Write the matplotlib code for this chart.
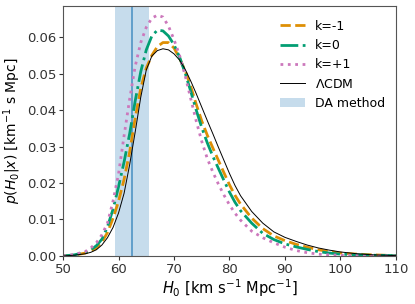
import numpy as np
import matplotlib
matplotlib.use("Agg")
import matplotlib.pyplot as plt

# H0 grid [km/s/Mpc]
h0 = [50, 52, 54, 55, 56, 57, 58, 59, 60, 61, 62, 63, 64, 65, 66, 67, 68, 69, 70,
      71, 72, 73, 74, 75, 76, 77, 78, 79, 80, 81, 82, 84, 86, 88, 90, 92, 94, 96,
      98, 100, 103, 106, 110]

# posterior p(H0|x)
p_km1 = [0.0000, 0.0002, 0.0008, 0.0013, 0.0022, 0.0038, 0.0064, 0.0103, 0.0150,
         0.0210, 0.0285, 0.0378, 0.0460, 0.0515, 0.0550, 0.0574, 0.0585, 0.0585,
         0.0570, 0.0542, 0.0508, 0.0465, 0.0416, 0.0370, 0.0331, 0.0296, 0.0262,
         0.0228, 0.0195, 0.0166, 0.0142, 0.0104, 0.0075, 0.0055, 0.0042, 0.0032,
         0.0024, 0.0017, 0.0012, 0.0008, 0.0005, 0.0003, 0.0001]
p_k0 = [0.0000, 0.0003, 0.0010, 0.0017, 0.0028, 0.0046, 0.0080, 0.0128, 0.0190,
        0.0258, 0.0335, 0.0425, 0.0505, 0.0565, 0.0603, 0.0619, 0.0617, 0.0603,
        0.0579, 0.0545, 0.0502, 0.0452, 0.0400, 0.0352, 0.0310, 0.0273, 0.0240,
        0.0207, 0.0175, 0.0147, 0.0124, 0.0090, 0.0062, 0.0045, 0.0033, 0.0025,
        0.0018, 0.0012, 0.0008, 0.0005, 0.0003, 0.0002, 0.0001]
p_kp1 = [0.0000, 0.0004, 0.0012, 0.0022, 0.0036, 0.0058, 0.0090, 0.0150, 0.0225,
         0.0330, 0.0430, 0.0520, 0.0585, 0.0627, 0.0652, 0.0660, 0.0655, 0.0630,
         0.0593, 0.0550, 0.0495, 0.0432, 0.0370, 0.0314, 0.0267, 0.0230, 0.0197,
         0.0167, 0.0140, 0.0117, 0.0098, 0.0068, 0.0050, 0.0036, 0.0024, 0.0015,
         0.0009, 0.0005, 0.0003, 0.0002, 0.0001, 0.0000, 0.0000]
p_lcdm = [0.0000, 0.0002, 0.0006, 0.0010, 0.0017, 0.0030, 0.0050, 0.0078, 0.0118,
          0.0172, 0.0250, 0.0340, 0.0435, 0.0510, 0.0548, 0.0563, 0.0568, 0.0565,
          0.0554, 0.0537, 0.0512, 0.0480, 0.0445, 0.0408, 0.0371, 0.0335, 0.0298,
          0.0262, 0.0226, 0.0193, 0.0165, 0.0122, 0.0090, 0.0066, 0.0051, 0.0040,
          0.0030, 0.0022, 0.0016, 0.0011, 0.0006, 0.0003, 0.0001]

# DA method estimate
da_lo, da_hi = 59.4, 65.5
da_mid = 62.4

fig = plt.figure(figsize=(4.15, 3.04), dpi=100)
ax = fig.add_axes([0.152, 0.158, 0.802, 0.822])

ax.axvspan(da_lo, da_hi, color='tab:blue', alpha=0.25, lw=0, label='DA method')
ax.axvline(da_mid, color='tab:blue', alpha=0.7, lw=1.2)

ax.plot(h0, p_km1, color='#de8f05', ls='--', lw=2, label='k=-1')
ax.plot(h0, p_k0, color='#029e73', ls='-.', lw=2, label='k=0')
ax.plot(h0, p_kp1, color='#cc78bc', ls=':', lw=2, label='k=+1')
ax.plot(h0, p_lcdm, color='k', lw=0.7, label=r'$\Lambda$CDM')

ax.set_xlim(50, 110)
ax.set_ylim(0, 0.0685)
ax.set_yticks([0, 0.01, 0.02, 0.03, 0.04, 0.05, 0.06])
ax.yaxis.set_major_formatter(matplotlib.ticker.FormatStrFormatter('%.2f'))
ax.tick_params(labelsize=9.5, length=3, width=0.8, colors='#333333', pad=2)
for s in ax.spines.values():
    s.set_color('#555555')

ax.set_xlabel(r'$H_0$ [km s$^{-1}$ Mpc$^{-1}$]', fontsize=10.5, labelpad=1)
ax.set_ylabel(r'$p(H_0|x)$ [km$^{-1}$ s Mpc]', fontsize=10, labelpad=3)

handles, labels = ax.get_legend_handles_labels()
order = [1, 2, 3, 4, 0]
ax.legend([handles[i] for i in order], [labels[i] for i in order],
          loc='upper right', frameon=False, fontsize=9,
          bbox_to_anchor=(1.0, 0.99))

fig.savefig('out.png', dpi=100)
